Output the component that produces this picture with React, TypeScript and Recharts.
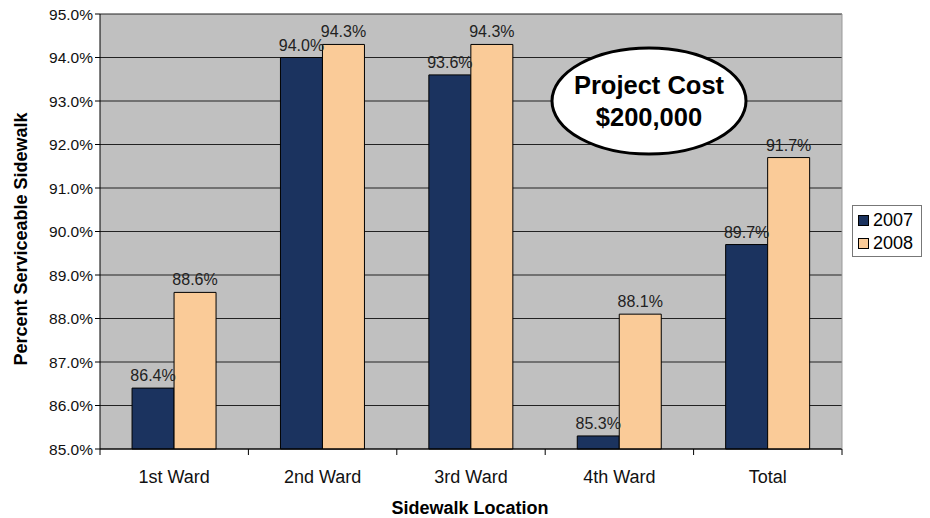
import React from 'react';
import { BarChart, Bar, XAxis, YAxis, CartesianGrid, LabelList } from 'recharts';

const categories = ['1st Ward', '2nd Ward', '3rd Ward', '4th Ward', 'Total'];
const values2007 = [86.4, 94.0, 93.6, 85.3, 89.7];
const values2008 = [88.6, 94.3, 94.3, 88.1, 91.7];
const yTicks = [85, 86, 87, 88, 89, 90, 91, 92, 93, 94, 95];
const seriesNames = ['2007', '2008'];

const data = categories.map((c, i) => ({ name: c, y2007: values2007[i], y2008: values2008[i] }));

const NAVY = '#1B335F';
const PEACH = '#FACB98';
const FONT = '"Liberation Sans", Arial, sans-serif';

const XTick = (props: any) => {
  const { x, y, payload, index } = props;
  const half = 74.2;
  return (
    <g>
      <line x1={x - half} y1={y - 8} x2={x - half} y2={y - 2} stroke="#000" />
      {index === categories.length - 1 && (
        <line x1={x + half} y1={y - 8} x2={x + half} y2={y - 2} stroke="#000" />
      )}
      <text x={x} y={y + 26} textAnchor="middle" fontSize={18} fill="#111" fontFamily={FONT}>
        {payload.value}
      </text>
    </g>
  );
};

const LegendBox = () => (
  <div
    style={{
      position: 'absolute',
      left: 852,
      top: 205,
      width: 70,
      height: 52,
      border: '1px solid #777',
      background: '#fff',
      fontFamily: FONT,
      fontSize: 18,
      color: '#000',
      boxSizing: 'border-box',
      padding: '3px 0 0 5px',
      lineHeight: '23px',
    }}
  >
    {[NAVY, PEACH].map((c, i) => (
      <div key={seriesNames[i]} style={{ display: 'flex', alignItems: 'center' }}>
        <span
          style={{
            display: 'inline-block',
            width: 9,
            height: 9,
            background: c,
            border: '1px solid #000',
            marginRight: 4,
          }}
        />
        {seriesNames[i]}
      </div>
    ))}
  </div>
);

const labelStyle = { fontSize: 16, fill: '#222', fontFamily: FONT };

export default function App() {
  return (
    <div style={{ position: 'absolute', left: 0, top: 0, width: 930, height: 518, background: '#fff', overflow: 'hidden' }}>
      <BarChart
        width={930}
        height={518}
        data={data}
        margin={{ top: 14, right: 88, bottom: 39, left: 40 }}
        barCategoryGap="21.6%"
        barGap={0}
      >
        <CartesianGrid vertical={false} horizontal stroke="#222" fill="#C0C0C0" fillOpacity={1} />
        <XAxis
          dataKey="name"
          height={30}
          axisLine={{ stroke: '#000' }}
          tickLine={false}
          tick={<XTick />}
          interval={0}
        />
        <YAxis
          width={60}
          domain={[85, 95]}
          ticks={yTicks}
          interval={0}
          tickFormatter={(v: number) => `${v.toFixed(1)}%`}
          axisLine={{ stroke: '#000' }}
          tickLine={{ stroke: '#000' }}
          tickSize={5}
          tick={{ fontSize: 15.5, fill: '#111', fontFamily: FONT }}
        />
        <Bar dataKey="y2007" name={seriesNames[0]} fill={NAVY} stroke="#000" strokeWidth={1} isAnimationActive={false}>
          <LabelList
            dataKey="y2007"
            position="top"
            offset={7}
            formatter={(v: any) => `${Number(v).toFixed(1)}%`}
            style={labelStyle}
          />
        </Bar>
        <Bar dataKey="y2008" name={seriesNames[1]} fill={PEACH} stroke="#000" strokeWidth={1} isAnimationActive={false}>
          <LabelList
            dataKey="y2008"
            position="top"
            offset={7}
            formatter={(v: any) => `${Number(v).toFixed(1)}%`}
            style={labelStyle}
          />
        </Bar>
      </BarChart>
      <LegendBox />
      <svg width={930} height={518} style={{ position: 'absolute', left: 0, top: 0, pointerEvents: 'none' }}>
        <line x1={842} y1={14} x2={842} y2={449} stroke="#999" />
        <ellipse cx={649} cy={101} rx={97} ry={53} fill="#fff" stroke="#000" strokeWidth={3} />
        <text x={649} y={94} textAnchor="middle" fontSize={25.5} fontWeight="bold" fontFamily={FONT} fill="#000">
          Project Cost
        </text>
        <text x={649} y={126} textAnchor="middle" fontSize={25.5} fontWeight="bold" fontFamily={FONT} fill="#000">
          $200,000
        </text>
        <text
          transform="translate(27,239) rotate(-90)"
          textAnchor="middle"
          fontSize={18}
          fontWeight="bold"
          fontFamily={FONT}
          fill="#000"
        >
          Percent Serviceable Sidewalk
        </text>
        <text x={470} y={514} textAnchor="middle" fontSize={18} fontWeight="bold" fontFamily={FONT} fill="#000">
          Sidewalk Location
        </text>
      </svg>
    </div>
  );
}
